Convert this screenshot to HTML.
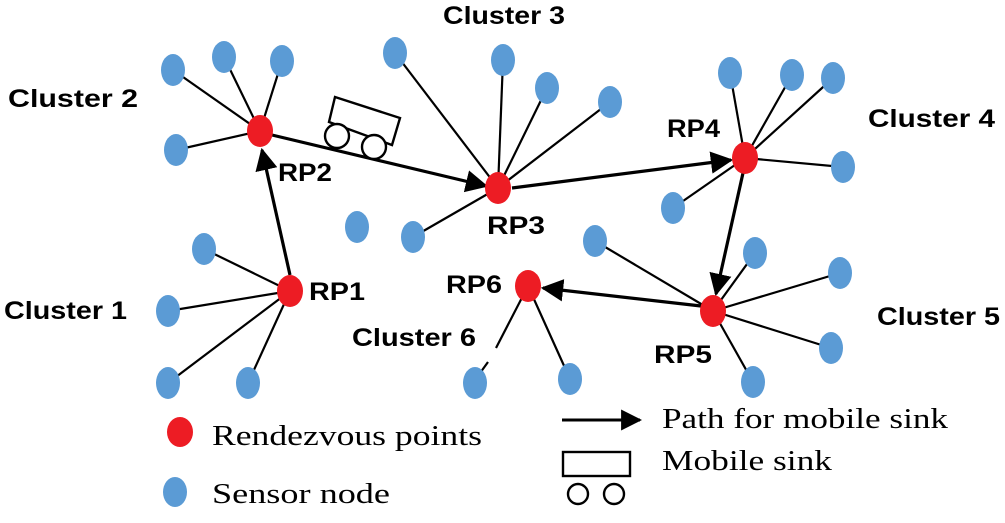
<!DOCTYPE html>
<html><head><meta charset="utf-8"><style>body{margin:0;background:#fff}svg{display:block}</style></head><body>
<svg width="1005" height="523" viewBox="0 0 1005 523" xmlns="http://www.w3.org/2000/svg">
<defs>
<marker id="ah" viewBox="0 0 10 10" refX="9" refY="5" markerWidth="7" markerHeight="7" orient="auto"><path d="M0,0 L10,5 L0,10 z" fill="#000"/></marker></defs>
<g stroke="#000" stroke-width="2.2">
<line x1="260" y1="131" x2="173" y2="70"/><line x1="260" y1="131" x2="224" y2="57"/><line x1="260" y1="131" x2="282" y2="61"/><line x1="260" y1="131" x2="176" y2="150"/>
<line x1="498" y1="188" x2="395" y2="53"/><line x1="498" y1="188" x2="503" y2="60"/><line x1="498" y1="188" x2="547" y2="88"/><line x1="498" y1="188" x2="610" y2="102"/><line x1="498" y1="188" x2="413" y2="237"/>
<line x1="745" y1="158" x2="730" y2="73"/><line x1="745" y1="158" x2="792" y2="75"/><line x1="745" y1="158" x2="833" y2="78"/><line x1="745" y1="158" x2="843" y2="167"/><line x1="745" y1="158" x2="673" y2="208"/>
<line x1="290" y1="291" x2="204" y2="249"/><line x1="290" y1="291" x2="168" y2="311"/><line x1="290" y1="291" x2="168" y2="383"/><line x1="290" y1="291" x2="248" y2="383"/>
<line x1="528" y1="286" x2="496" y2="348"/><line x1="488" y1="362" x2="475" y2="380"/><line x1="528" y1="286" x2="570" y2="379"/>
<line x1="713" y1="311" x2="595" y2="241"/><line x1="713" y1="311" x2="755" y2="253"/><line x1="713" y1="311" x2="840" y2="273"/><line x1="713" y1="311" x2="831" y2="348"/><line x1="713" y1="311" x2="753" y2="382"/>
</g>
<g stroke="#000" stroke-width="3.2" marker-end="url(#ah)">
<line x1="290" y1="275" x2="262" y2="150"/>
<line x1="272" y1="135" x2="486" y2="186"/>
<line x1="512" y1="188" x2="731" y2="160"/>
<line x1="743" y1="173" x2="716" y2="294"/>
<line x1="701" y1="306" x2="543" y2="288"/>
</g>
<g stroke="#000" stroke-width="2.4" fill="#fff">
<polygon points="335,97 400,118 392,145 329,122"/>
<circle cx="337" cy="136" r="12"/><circle cx="374" cy="147" r="12"/>
</g>
<g fill="#5b9bd5">
<ellipse cx="173" cy="70" rx="12" ry="16"/><ellipse cx="224" cy="57" rx="12" ry="16"/><ellipse cx="282" cy="61" rx="12" ry="16"/><ellipse cx="176" cy="150" rx="12" ry="16"/>
<ellipse cx="395" cy="53" rx="12" ry="16"/><ellipse cx="503" cy="60" rx="12" ry="16"/><ellipse cx="547" cy="88" rx="12" ry="16"/><ellipse cx="610" cy="102" rx="12" ry="16"/><ellipse cx="413" cy="237" rx="12" ry="16"/><ellipse cx="357" cy="227" rx="12" ry="16"/>
<ellipse cx="730" cy="73" rx="12" ry="16"/><ellipse cx="792" cy="75" rx="12" ry="16"/><ellipse cx="833" cy="78" rx="12" ry="16"/><ellipse cx="843" cy="167" rx="12" ry="16"/><ellipse cx="673" cy="208" rx="12" ry="16"/>
<ellipse cx="204" cy="249" rx="12" ry="16"/><ellipse cx="168" cy="311" rx="12" ry="16"/><ellipse cx="168" cy="383" rx="12" ry="16"/><ellipse cx="248" cy="383" rx="12" ry="16"/>
<ellipse cx="475" cy="383" rx="12" ry="16"/><ellipse cx="570" cy="379" rx="12" ry="16"/>
<ellipse cx="595" cy="241" rx="12" ry="16"/><ellipse cx="755" cy="253" rx="12" ry="16"/><ellipse cx="840" cy="273" rx="12" ry="16"/><ellipse cx="831" cy="348" rx="12" ry="16"/><ellipse cx="753" cy="382" rx="12" ry="16"/>
<ellipse cx="175" cy="492" rx="12" ry="15"/>
</g>
<g fill="#ed1c24">
<ellipse cx="260" cy="131" rx="13" ry="16"/><ellipse cx="498" cy="188" rx="13" ry="16"/><ellipse cx="745" cy="158" rx="13" ry="16"/>
<ellipse cx="290" cy="291" rx="13" ry="16"/><ellipse cx="528" cy="286" rx="13" ry="16"/><ellipse cx="713" cy="311" rx="13" ry="16"/>
<ellipse cx="180" cy="432" rx="13" ry="15"/>
</g>
<g font-family="Liberation Sans, sans-serif" font-weight="bold" font-size="25" fill="#000" lengthAdjust="spacingAndGlyphs">
<text x="443" y="24" textLength="122" lengthAdjust="spacingAndGlyphs">Cluster 3</text>
<text x="8" y="107" textLength="130" lengthAdjust="spacingAndGlyphs">Cluster 2</text>
<text x="868" y="127" textLength="127" lengthAdjust="spacingAndGlyphs">Cluster 4</text>
<text x="4" y="319" textLength="123" lengthAdjust="spacingAndGlyphs">Cluster 1</text>
<text x="877" y="325" textLength="123" lengthAdjust="spacingAndGlyphs">Cluster 5</text>
<text x="352" y="346" textLength="124" lengthAdjust="spacingAndGlyphs">Cluster 6</text>
<text x="278" y="181" textLength="54" lengthAdjust="spacingAndGlyphs">RP2</text>
<text x="487" y="234" textLength="58" lengthAdjust="spacingAndGlyphs">RP3</text>
<text x="667" y="137" textLength="53" lengthAdjust="spacingAndGlyphs">RP4</text>
<text x="309" y="300" textLength="56" lengthAdjust="spacingAndGlyphs">RP1</text>
<text x="446" y="293" textLength="56" lengthAdjust="spacingAndGlyphs">RP6</text>
<text x="654" y="363" textLength="58" lengthAdjust="spacingAndGlyphs">RP5</text>
</g>
<g font-family="Liberation Serif, serif" font-size="29" fill="#000">
<text x="212" y="445" textLength="270" lengthAdjust="spacingAndGlyphs">Rendezvous points</text>
<text x="212" y="503" textLength="178" lengthAdjust="spacingAndGlyphs">Sensor node</text>
<text x="662" y="428" textLength="286" lengthAdjust="spacingAndGlyphs">Path for mobile sink</text>
<text x="662" y="470" textLength="170" lengthAdjust="spacingAndGlyphs">Mobile sink</text>
</g>
<line x1="562" y1="420" x2="640" y2="420" stroke="#000" stroke-width="3" marker-end="url(#ah)"/>
<g stroke="#000" stroke-width="2.4" fill="#fff">
<rect x="563" y="452" width="67" height="24"/>
<circle cx="578" cy="494" r="10"/><circle cx="614" cy="494" r="10"/>
</g>
</svg>
</body></html>
